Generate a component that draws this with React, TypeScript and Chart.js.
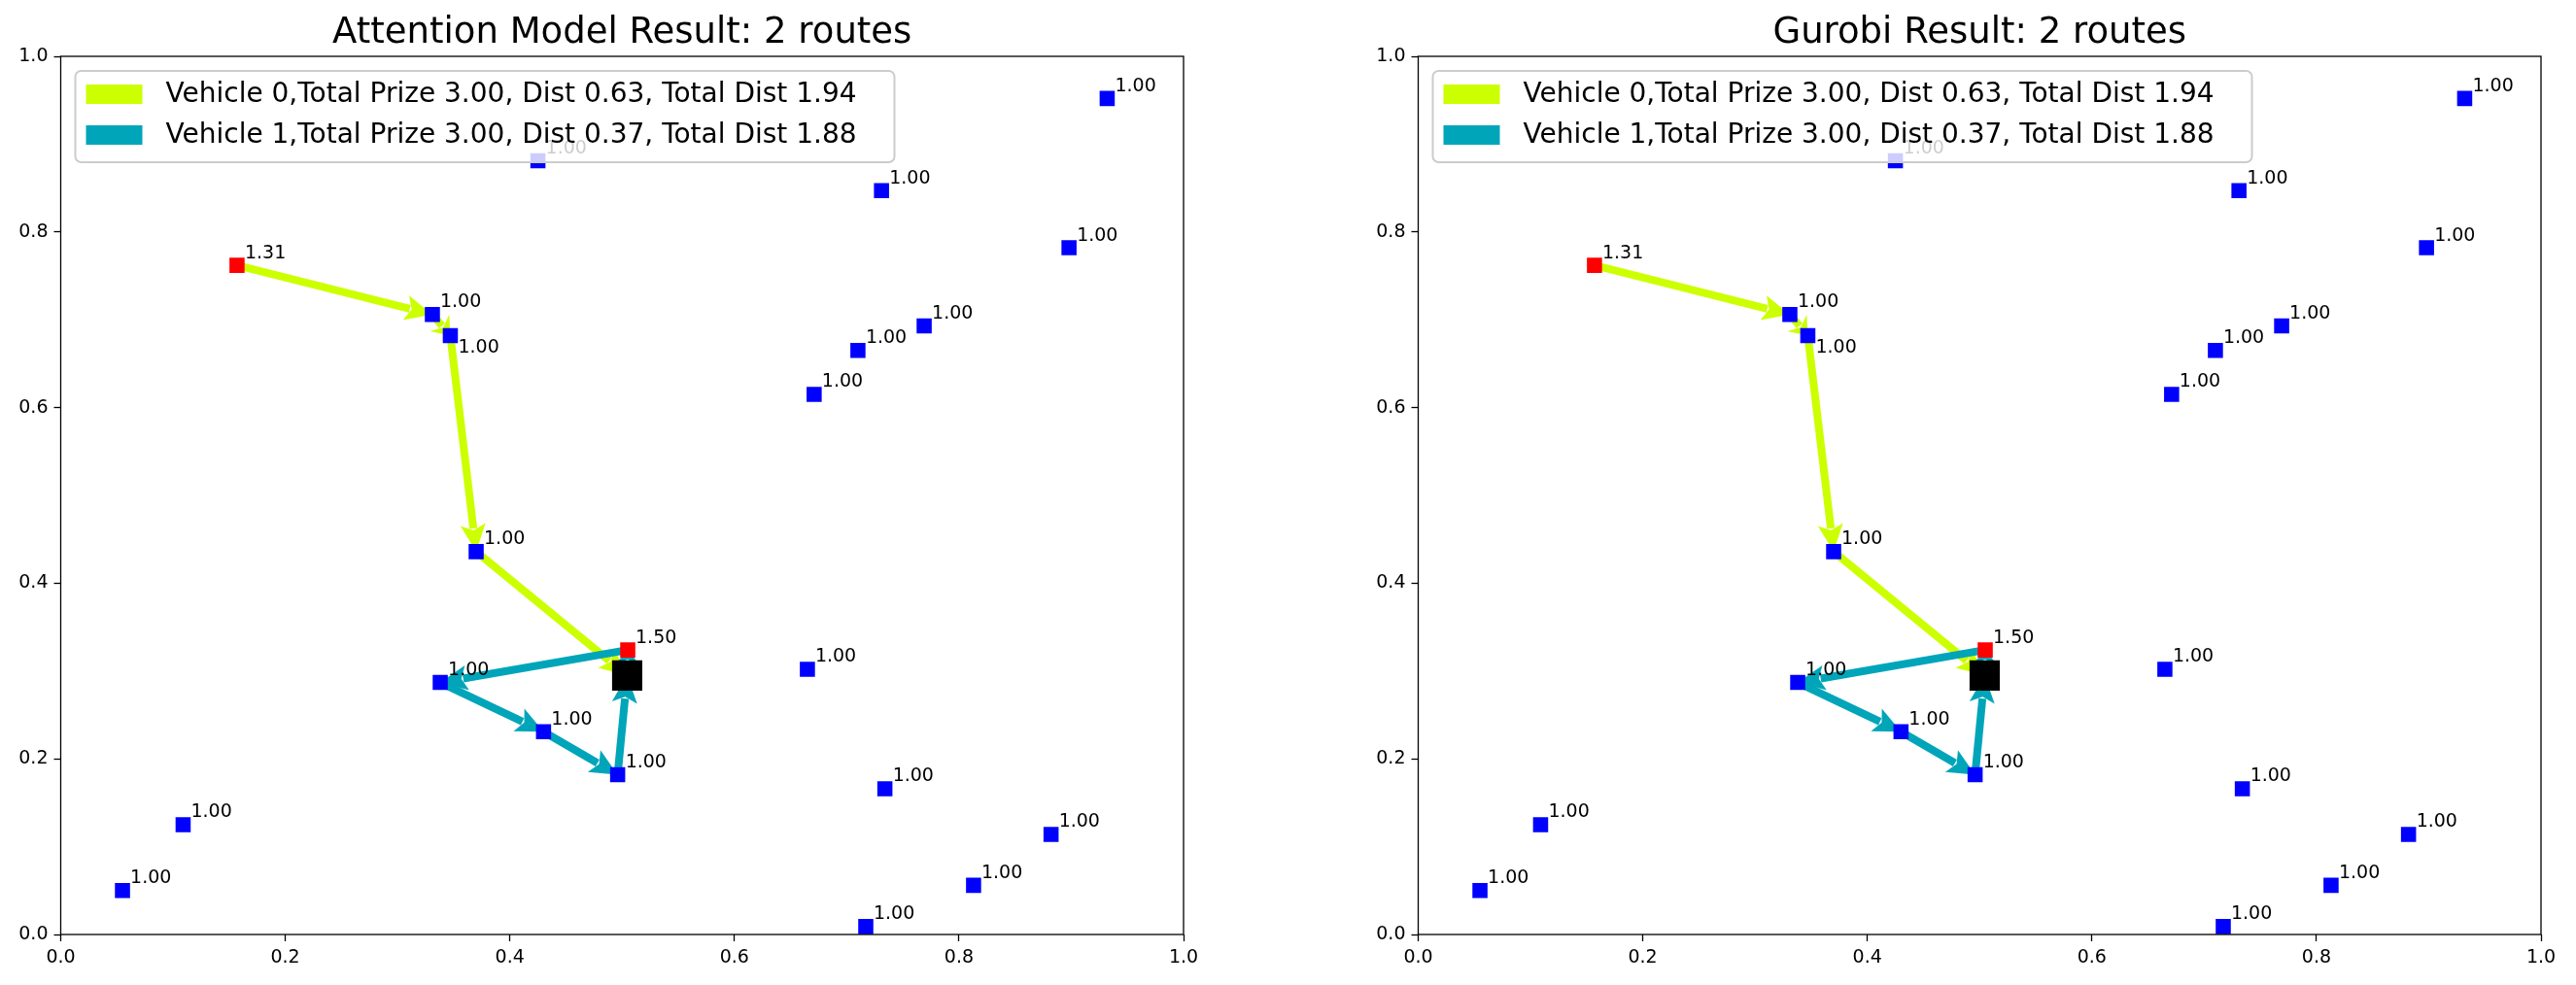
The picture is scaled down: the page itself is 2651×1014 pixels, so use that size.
import { useEffect, useRef } from 'react';
import { Chart, registerables } from 'chart.js';

Chart.register(...registerables);

// customer nodes [x, y]
const NODES: [number, number][] = [
  [0.331, 0.706], [0.347, 0.682], [0.370, 0.436], [0.338, 0.287], [0.430, 0.231],
  [0.496, 0.182], [0.425, 0.881], [0.731, 0.847], [0.932, 0.952], [0.898, 0.782],
  [0.769, 0.693], [0.710, 0.665], [0.671, 0.615], [0.665, 0.302], [0.734, 0.166],
  [0.882, 0.114], [0.813, 0.056], [0.717, 0.009], [0.109, 0.125], [0.055, 0.050],
];
const NODE_PRIZES = NODES.map(() => '1.00');
const SPECIAL: [number, number][] = [[0.157, 0.762], [0.505, 0.324]];
const SPECIAL_PRIZES = ['1.31', '1.50'];
const DEPOT: [number, number] = [0.5045, 0.295];

const ROUTE_0: [number, number][] = [[0.157, 0.762], [0.331, 0.706], [0.347, 0.682], [0.370, 0.436], DEPOT];
const ROUTE_1: [number, number][] = [DEPOT, [0.505, 0.324], [0.338, 0.287], [0.430, 0.231], [0.496, 0.182], DEPOT];
const LEGEND = [
  'Vehicle 0,Total Prize 3.00, Dist 0.63, Total Dist 1.94',
  'Vehicle 1,Total Prize 3.00, Dist 0.37, Total Dist 1.88',
];
const COLORS = ['#ccff00', '#00a5b9'];
const TITLES = ['Attention Model Result: 2 routes', 'Gurobi Result: 2 routes'];
const FONT = '"DejaVu Sans", sans-serif';

function arrow(ctx: CanvasRenderingContext2D, x1: number, y1: number, x2: number, y2: number, color: string) {
  const dx = x2 - x1, dy = y2 - y1;
  const len = Math.hypot(dx, dy);
  if (len < 1) return;
  const ux = dx / len, uy = dy / len;
  const hl = Math.min(28, len * 0.6), hw = 13;
  const bx = x2 - ux * hl, by = y2 - uy * hl;
  ctx.strokeStyle = color;
  ctx.fillStyle = color;
  ctx.lineWidth = 8;
  ctx.beginPath();
  ctx.moveTo(x1, y1);
  ctx.lineTo(bx + ux * 4, by + uy * 4);
  ctx.stroke();
  ctx.beginPath();
  ctx.moveTo(x2, y2);
  ctx.lineTo(bx - uy * hw, by + ux * hw);
  ctx.lineTo(bx + ux * 6, by + uy * 6);
  ctx.lineTo(bx + uy * hw, by - ux * hw);
  ctx.closePath();
  ctx.fill();
}

const routesPlugin = {
  id: 'routes',
  beforeDatasetsDraw(chart: any) {
    const { ctx, scales } = chart;
    const px = (p: [number, number]) => [scales.x.getPixelForValue(p[0]), scales.y.getPixelForValue(p[1])];
    ctx.save();
    [ROUTE_0, ROUTE_1].forEach((r, ri) => {
      for (let i = 0; i < r.length - 1; i++) {
        const [x1, y1] = px(r[i]);
        const [x2, y2] = px(r[i + 1]);
        arrow(ctx, x1, y1, x2, y2, COLORS[ri]);
      }
    });
    ctx.restore();
  },
  afterDatasetsDraw(chart: any) {
    const { ctx, scales, chartArea: a } = chart;
    ctx.save();
    ctx.fillStyle = '#000';
    ctx.font = `19px ${FONT}`;
    ctx.textBaseline = 'bottom';
    const all = [...NODES.map((p, i) => [p, NODE_PRIZES[i]]), ...SPECIAL.map((p, i) => [p, SPECIAL_PRIZES[i]])] as [[number, number], string][];
    all.forEach(([p, t]) => {
      const x = scales.x.getPixelForValue(p[0]);
      const y = scales.y.getPixelForValue(p[1]);
      const below = p[0] === 0.347 && p[1] === 0.682;
      ctx.fillText(t, x + 8, below ? y + 22 : y - 3);
    });
    // box
    ctx.strokeStyle = '#000';
    ctx.lineWidth = 1.3;
    ctx.strokeRect(a.left, a.top, a.right - a.left, a.bottom - a.top);
    // legend
    const lx = a.left + 15, ly = 73, lw = 843, lh = 94;
    ctx.fillStyle = 'rgba(255,255,255,0.8)';
    ctx.strokeStyle = '#cccccc';
    ctx.lineWidth = 2;
    ctx.beginPath();
    ctx.roundRect(lx, ly, lw, lh, 6);
    ctx.fill();
    ctx.stroke();
    ctx.font = `28px ${FONT}`;
    ctx.textBaseline = 'middle';
    LEGEND.forEach((t, i) => {
      const cy = 97 + i * 42;
      ctx.fillStyle = COLORS[i];
      ctx.fillRect(lx + 11, cy - 10, 58, 20);
      ctx.fillStyle = '#000';
      ctx.fillText(t, lx + 93, cy + 1);
    });
    // title
    ctx.font = `37px ${FONT}`;
    ctx.textAlign = 'center';
    ctx.textBaseline = 'alphabetic';
    ctx.fillText(chart.options.plugins.customTitle, (a.left + a.right) / 2, 44);
    ctx.restore();
  },
};

function Panel({ title, left }: { title: string; left: number }) {
  const canvasRef = useRef<HTMLCanvasElement>(null);
  useEffect(() => {
    if (!canvasRef.current) return;
    const sq = (p: [number, number][]) => p.map(([x, y]) => ({ x, y }));
    const chart = new Chart(canvasRef.current, {
      type: 'scatter',
      data: {
        datasets: [
          { data: sq(NODES), pointStyle: 'rect', pointRadius: 11, backgroundColor: '#0000ff', borderWidth: 0 },
          { data: sq([DEPOT]), pointStyle: 'rect', pointRadius: 22, backgroundColor: '#000000', borderWidth: 0 },
          { data: sq(SPECIAL), pointStyle: 'rect', pointRadius: 11, backgroundColor: '#ff0000', borderWidth: 0 },
        ],
      },
      options: {
        animation: false,
        responsive: false,
        layout: { padding: { top: 58, right: 13, left: 0, bottom: 0 } },
        plugins: { legend: { display: false }, tooltip: { enabled: false }, customTitle: title } as any,
        scales: {
          x: {
            min: 0, max: 1,
            afterFit: (s: any) => { s.height = 52; },
            grid: { drawOnChartArea: false, tickLength: 7, color: '#000', tickWidth: 1.3 },
            border: { display: false },
            ticks: { stepSize: 0.2, color: '#000', font: { family: FONT, size: 19 }, padding: 6, callback: (v: any) => Number(v).toFixed(1) },
          },
          y: {
            min: 0, max: 1,
            afterFit: (s: any) => { s.width = 62.5; },
            grid: { drawOnChartArea: false, tickLength: 7, color: '#000', tickWidth: 1.3 },
            border: { display: false },
            ticks: { stepSize: 0.2, color: '#000', font: { family: FONT, size: 19 }, padding: 6, callback: (v: any) => Number(v).toFixed(1) },
          },
        },
      },
      plugins: [routesPlugin],
    });
    return () => chart.destroy();
  }, [title]);
  return (
    <div style={{ position: 'absolute', left, top: 0 }}>
      <canvas ref={canvasRef} width={1240} height={1014} style={{ width: 1240, height: 1014 }} />
    </div>
  );
}

export default function App() {
  return (
    <div style={{ position: 'fixed', left: 0, top: 0, width: 2651, height: 1014, background: '#fff' }}>
      <Panel title={TITLES[0]} left={0} />
      <Panel title={TITLES[1]} left={1396.5} />
    </div>
  );
}
